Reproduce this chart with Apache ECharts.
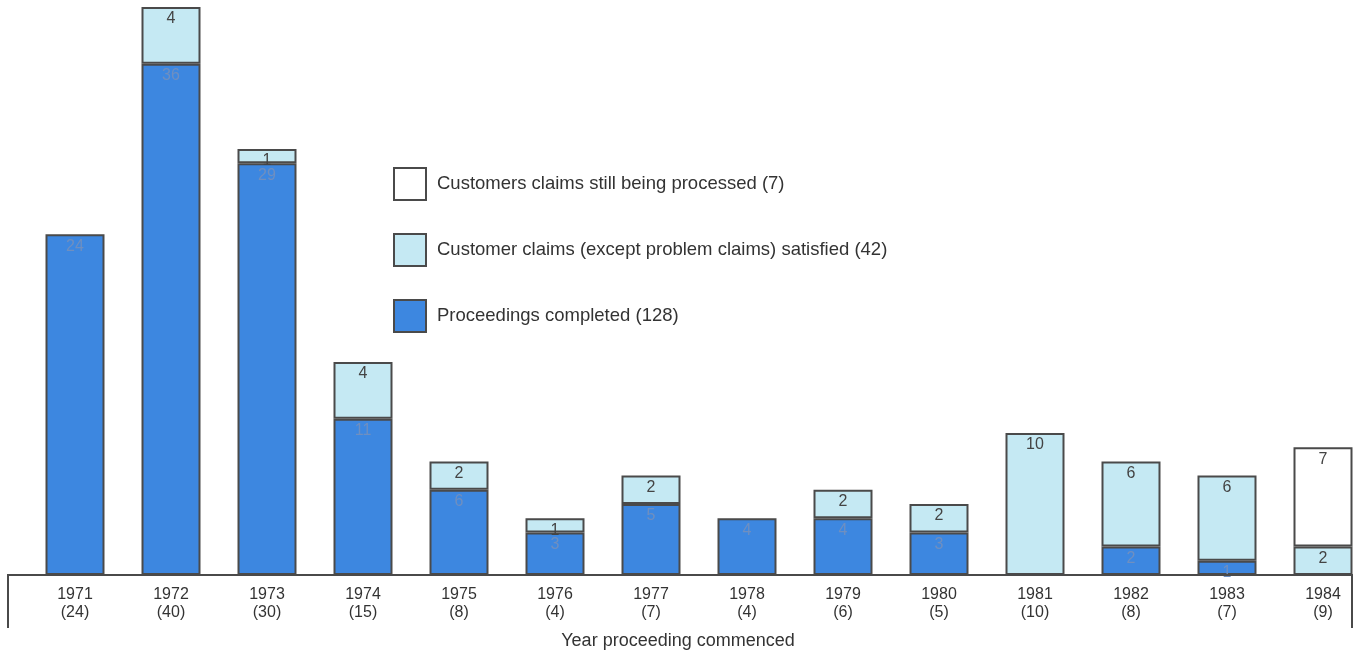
<!DOCTYPE html>
<html>
<head>
<meta charset="utf-8">
<script src="https://cdn.jsdelivr.net/npm/echarts@6/dist/echarts.min.js"></script>
<style>
  html, body { margin: 0; padding: 0; background: #fff; }
  #chart { width: 1356px; height: 656px; }
</style>
</head>
<body>
<div id="chart"></div>
<script>
// data
var years = ['1971', '1972', '1973', '1974', '1975', '1976', '1977', '1978', '1979', '1980', '1981', '1982', '1983', '1984'];
var totals = [24, 40, 30, 15, 8, 4, 7, 4, 6, 5, 10, 8, 7, 9];
var completed = [24, 36, 29, 11, 6, 3, 5, 4, 4, 3, 0, 2, 1, 0];
var satisfied = [0, 4, 1, 4, 2, 1, 2, 0, 2, 2, 10, 6, 6, 2];
var processing = [0, 0, 0, 0, 0, 0, 0, 0, 0, 0, 0, 0, 0, 7];

var nameProcessing = 'Customers claims still being processed (7)';
var nameSatisfied = 'Customer claims (except problem claims) satisfied (42)';
var nameCompleted = 'Proceedings completed (128)';

var font = 'Liberation Sans, Arial, sans-serif';
var categories = years.map(function (y, i) { return y + '\n(' + totals[i] + ')'; });

function noZero(arr) {
  return arr.map(function (v) { return v === 0 ? null : v; });
}

function makeSeries(name, data, color, labelColor) {
  return {
    name: name,
    type: 'bar',
    stack: 'all',
    barWidth: 59,
    data: noZero(data),
    itemStyle: { color: color, borderColor: '#4a4a4a', borderWidth: 2 },
    label: {
      show: true,
      position: 'insideTop',
      distance: 4,
      color: labelColor,
      fontSize: 16,
      fontFamily: font
    }
  };
}

var myChart = echarts.init(document.getElementById('chart'));

myChart.setOption({
  animation: false,
  title: {
    text: 'Year proceeding commenced',
    left: 'center',
    top: 632,
    padding: 0,
    textStyle: { fontSize: 18, fontWeight: 'normal', color: '#333', fontFamily: font }
  },
  legend: {
    orient: 'vertical',
    left: 393,
    top: 167,
    padding: 0,
    icon: 'rect',
    itemWidth: 32,
    itemHeight: 32,
    itemGap: 32,
    data: [nameProcessing, nameSatisfied, nameCompleted],
    textStyle: { fontSize: 18.5, color: '#333', fontFamily: font, padding: [0, 0, 0, 6] }
  },
  grid: { left: 27, top: 7, width: 1344, height: 568, outerBoundsMode: 'none', containLabel: false },
  xAxis: {
    type: 'category',
    data: categories,
    axisLine: { show: false },
    axisTick: { show: false },
    axisLabel: {
      margin: 11,
      fontSize: 16,
      lineHeight: 18,
      color: '#333',
      fontFamily: font
    }
  },
  yAxis: {
    type: 'value',
    min: 0,
    max: 40,
    show: false,
    splitLine: { show: false }
  },
  graphic: [{
    type: 'polyline',
    shape: { points: [[8, 628], [8, 575], [1352, 575], [1352, 628]] },
    style: { stroke: '#4a4a4a', lineWidth: 2, fill: null },
    z: 10
  }],
  series: [
    makeSeries(nameCompleted, completed, '#3d87e0', '#6f8fc0'),
    makeSeries(nameSatisfied, satisfied, '#c5e9f3', '#444'),
    makeSeries(nameProcessing, processing, '#ffffff', '#444')
  ]
});
</script>
</body>
</html>
